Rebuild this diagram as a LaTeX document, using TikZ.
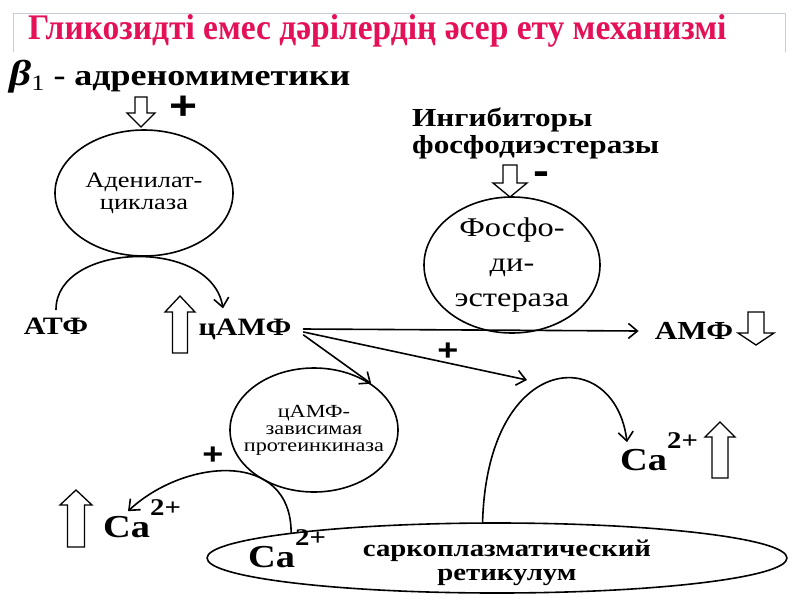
\documentclass[tikz,border=0pt]{standalone}
\usepackage{fontspec}
\setmainfont{Liberation Serif}[FakeStretch=1.2]
\newfontfamily\titlefont{Liberation Serif}[FakeStretch=0.93]
\newfontfamily\signfont{Liberation Sans}[FakeStretch=1.2]
\newcommand\caion{Ca\raisebox{0.68em}{\fontsize{24}{24}\selectfont 2+}}
\usetikzlibrary{arrows.meta, positioning, shapes.geometric}
\definecolor{TitleRed}{RGB}{228,16,88}
\definecolor{FrameGray}{RGB}{200,207,212}
\tikzset{every path/.style={line cap=round, line join=round}, >={Straight Barb[length=9pt, width=15pt]}}
\tikzset{
  lbl/.style={inner sep=0pt, font=\bfseries\fontsize{#1}{#1}\selectfont},
  lbl/.default=25,
  enzyme/.style={draw, ellipse, line width=1.6pt, inner sep=0pt, align=center},
  flow/.style={->, line width=1.6pt},
  sign/.style={inner sep=0pt, font=\signfont\bfseries\fontsize{#1}{#1}\selectfont},
  pics/fatarrow/.style n args={4}{code={
    \draw[line width=1.3pt, line join=miter, fill=white]
      (-#3,0) -- (-#3,-#1+#4) -- (-#2,-#1+#4) -- (0,-#1)
      -- (#2,-#1+#4) -- (#3,-#1+#4) -- (#3,0) -- cycle;
  }}
}

\begin{document}
\begin{tikzpicture}[x=1pt, y=-1pt]
    \useasboundingbox (0,0) rectangle (800,600);

    % title
    \draw [FrameGray, line width=1pt] (13,52) -- (13,13) -- (785,13) -- (785,52);
    \node [anchor=west, inner sep=0pt, text=TitleRed,
        font=\titlefont\bfseries\fontsize{36}{36}\selectfont] (title) at (28,31)
        {Гликозидті емес дәрілердің әсер ету механизмі};

    % stimulators and enzymes
    \node [lbl=30, anchor=west] (beta) at (9,77)
        {{\fontsize{36}{36}\selectfont\itshape β}{\mdseries\fontsize{22}{22}\selectfont\raisebox{-5pt}{1}} - адреномиметики};
    \pic [rotate=180] at (141,97) {fatarrow={30}{14}{6}{14}};
    \node [sign=40] (plusA) at (184,108) {+};

    \node [enzyme, minimum width=178, minimum height=126,
        font=\fontsize{22}{22}\selectfont] (ac) at (144,193) {Аденилат-\\циклаза};

    \node [lbl=26, anchor=west, align=left, font=\bfseries\fontsize{26}{27}\selectfont] (inhib) at (412,133)
        {Ингибиторы\\фосфодиэстеразы};
    \pic [rotate=180] at (510,165) {fatarrow={32}{17}{7}{14}};
    \node [sign=40] (minusA) at (541,178) {-};

    \node [enzyme, minimum width=176, minimum height=136,
        font=\fontsize{27}{35}\selectfont] (pde) at (512,265) {Фосфо-\\ди-\\эстераза};

    % nucleotides
    \node [lbl] (atf) at (56,326) {АТФ};
    \node [lbl] (camp) at (245,329) {цАМФ};
    \pic at (180,353) {fatarrow={57}{15}{7.5}{16}};
    \node [lbl=26] (amf) at (694,331) {АМФ};
    \pic [rotate=180] at (756,312) {fatarrow={33}{18}{8}{12}};

    \node [enzyme, minimum width=168, minimum height=124, inner xsep=-24pt,
        font=\fontsize{18.5}{17}\selectfont] (pka) at (314,430)
        {цАМФ-\\зависимая\\протеинкиназа};
    \node [sign=30] (plusB) at (448,352) {+};
    \node [sign=30] (plusC) at (213,456) {+};

    % calcium
    \node [lbl=32, anchor=base west] (caR) at (620,470) {\caion};
    \pic at (720,478) {fatarrow={56}{15}{8}{15}};
    \node [lbl=32, anchor=base west] (caL) at (103,537) {\caion};
    \pic at (76,547) {fatarrow={57}{16}{8.5}{15}};

    \node [draw, ellipse, line width=1.6pt, minimum width=580, minimum height=70] (sr) at (497,558) {};
    \node [lbl=32, anchor=base west] (caSR) at (248,567) {\caion};
    \node [align=center, inner sep=0pt, font=\bfseries\fontsize{24}{24}\selectfont] (srtext) at (507,563)
        {саркоплазматический\\ретикулум};

    % connectors
    \draw [flow] ([yshift=8pt]atf.north) .. controls +(0,-67) and +(-12,-72) .. ([xshift=-22pt, yshift=10pt]camp.north);
    \draw [flow] ([xshift=12pt]camp.east) -- ([xshift=-16pt]amf.west);
    \draw [flow] ([xshift=12pt, yshift=-6pt]camp.east) -- (pka.39);
    \coordinate (srpeak) at (527,380);
    \draw [flow] ([xshift=12pt, yshift=-3pt]camp.east) -- (srpeak);
    \draw [flow] (sr.112) .. controls +(5,-173) and +(-12,-98) .. ([xshift=7pt, yshift=-10pt]caR.north west);
    \draw [flow] (sr.173) .. controls +(0,-83) and +(57,-53) .. ([xshift=25pt, yshift=-12pt]caL.north west);
\end{tikzpicture}
\end{document}
